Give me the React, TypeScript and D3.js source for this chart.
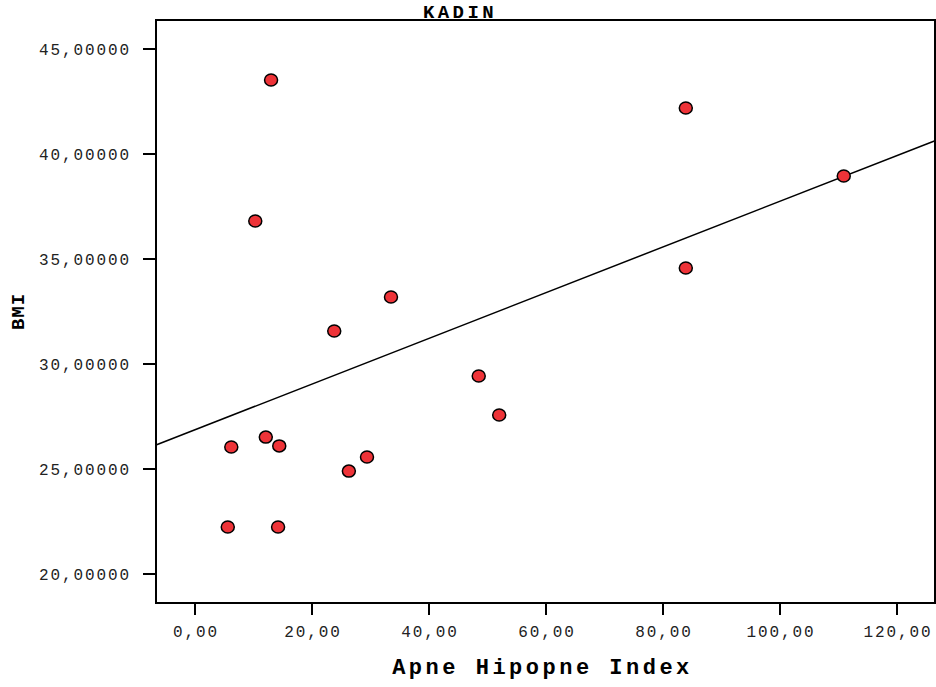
import { scaleLinear } from "d3";
import { useEffect } from "react";

// AHI (x) and BMI (y) per patient
const ahiValues = [13.0, 10.3, 83.9, 110.9, 83.9, 33.5, 23.8, 48.5, 52.0, 12.1, 6.2, 14.4, 29.4, 26.3, 5.6, 14.2];
const bmiValues = [43.52, 36.81, 42.19, 38.95, 34.57, 33.19, 31.57, 29.43, 27.57, 26.52, 26.05, 26.1, 25.57, 24.9, 22.24, 22.24];

const xTicks = [0, 20, 40, 60, 80, 100, 120];
const yTicks = [20, 25, 30, 35, 40, 45];

// fit line: BMI = intercept + slope * AHI
const fitIntercept = 26.87;
const fitSlope = 0.1088;

const W = 936;
const H = 687;
const MARGIN = { left: 156, top: 20, right: 1, bottom: 84 };
const FONT = "'Liberation Mono', 'Courier New', monospace";

const fmt = (v: number, d: number) => v.toFixed(d).replace(".", ",");

export default function App() {
  useEffect(() => {
    document.body.style.margin = "0";
  }, []);

  const boundsWidth = W - MARGIN.left - MARGIN.right;
  const boundsHeight = H - MARGIN.top - MARGIN.bottom;

  const xScale = scaleLinear().domain([-6.67, 126.5]).range([0, boundsWidth]);
  const yScale = scaleLinear().domain([18.62, 46.38]).range([boundsHeight, 0]);

  const [x0, x1] = xScale.domain();

  return (
    <svg width={W} height={H} style={{ display: "block", background: "#fff" }}>
      <text
        x={460}
        y={18}
        fontFamily={FONT}
        fontSize={19}
        fontWeight={700}
        letterSpacing={3.4}
        textAnchor="middle"
        fill="#000"
      >
        KADIN
      </text>
      <g transform={`translate(${MARGIN.left},${MARGIN.top})`}>
        <rect x={0} y={0} width={boundsWidth} height={boundsHeight} fill="none" stroke="#000" strokeWidth={2} />

        {yTicks.map((t) => (
          <g key={t} transform={`translate(0,${yScale(t)})`}>
            <line x1={-13} x2={0} stroke="#000" strokeWidth={2} />
            <text
              x={-25}
              dy="0.35em"
              fontFamily={FONT}
              fontSize={16}
              letterSpacing={1.9}
              textAnchor="end"
              fill="#222"
            >
              {fmt(t, 5)}
            </text>
          </g>
        ))}

        {xTicks.map((t) => (
          <g key={t} transform={`translate(${xScale(t)},${boundsHeight})`}>
            <line y1={0} y2={12} stroke="#000" strokeWidth={2} />
            <text
              y={34}
              x={1}
              fontFamily={FONT}
              fontSize={16}
              letterSpacing={1.9}
              textAnchor="middle"
              fill="#222"
            >
              {fmt(t, 2)}
            </text>
          </g>
        ))}

        <line
          x1={xScale(x0)}
          y1={yScale(fitIntercept + fitSlope * x0)}
          x2={xScale(x1)}
          y2={yScale(fitIntercept + fitSlope * x1)}
          stroke="#000"
          strokeWidth={1.5}
        />

        {ahiValues.map((a, i) => (
          <ellipse
            key={i}
            cx={xScale(a)}
            cy={yScale(bmiValues[i])}
            rx={6.5}
            ry={6}
            fill="#ee3338"
            stroke="#000"
            strokeWidth={1.5}
          />
        ))}

        <text
          x={boundsWidth / 2 - 3}
          y={boundsHeight + 71}
          fontFamily={FONT}
          fontSize={22}
          fontWeight={700}
          letterSpacing={3.5}
          textAnchor="middle"
          fill="#000"
        >
          Apne Hipopne Index
        </text>
      </g>
      <text
        transform={`translate(24,${MARGIN.top + boundsHeight / 2}) rotate(-90)`}
        fontFamily={FONT}
        fontSize={19}
        fontWeight={700}
        letterSpacing={1}
        textAnchor="middle"
        fill="#000"
      >
        BMI
      </text>
    </svg>
  );
}
